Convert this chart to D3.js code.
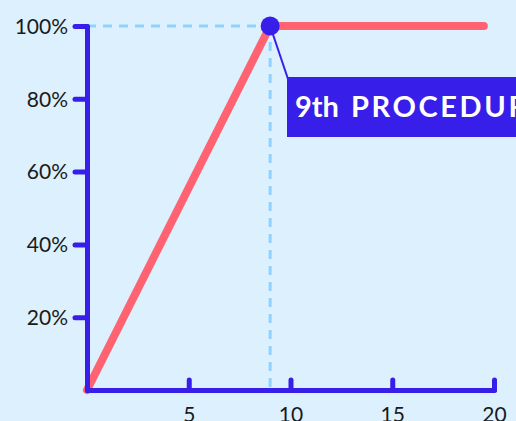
<!DOCTYPE html>
<html>
<head>
<meta charset="utf-8">
<script src="https://cdn.jsdelivr.net/npm/d3@7"></script>
<style>
  html, body { margin: 0; padding: 0; background: #ddf0fe; overflow: hidden; }
  svg { display: block; }
</style>
</head>
<body>
<svg id="chart" width="516" height="421"></svg>
<script>
// Learning curve: share of proficiency reached by procedure number
const procedures = [0, 9, 19.5];
const proficiency = [0, 1, 1];
const xTicks = [5, 10, 15, 20];
const yTicks = [0.2, 0.4, 0.6, 0.8, 1.0];
const milestoneIndex = 1;
const milestoneOrdinal = "9th";
const milestoneWord = "PROCEDURE";

const blue = "#381ee9";
const red = "#ff6270";
const guide = "#8fd2ff";

const svg = d3.select("#chart");
const x = d3.scaleLinear().domain([0, 20]).range([87, 494]);
const y = d3.scaleLinear().domain([0, 1]).range([390, 26]);

// Guide lines to the milestone point
const mx = x(procedures[milestoneIndex]);
const my = y(proficiency[milestoneIndex]);
svg.append("line")
  .attr("x1", x(0)).attr("x2", mx).attr("y1", my).attr("y2", my)
  .attr("stroke", guide).attr("stroke-width", 3).attr("stroke-dasharray", "9,7");
svg.append("line")
  .attr("x1", mx).attr("x2", mx).attr("y1", my).attr("y2", y(0))
  .attr("stroke", guide).attr("stroke-width", 3).attr("stroke-dasharray", "9,7");

// Curve
const data = procedures.map((p, i) => ({ p, v: proficiency[i] }));
svg.append("path")
  .datum(data)
  .attr("fill", "none")
  .attr("stroke", red)
  .attr("stroke-width", 8)
  .attr("stroke-linecap", "round")
  .attr("stroke-linejoin", "round")
  .attr("d", d3.line().x(d => x(d.p)).y(d => y(d.v)));

// Axes
const yAxis = svg.append("g")
  .attr("transform", `translate(${x(0)},0)`)
  .call(d3.axisLeft(y).tickValues(yTicks).tickFormat(d3.format(".0%")).tickSize(12).tickSizeOuter(0));
const xAxis = svg.append("g")
  .attr("transform", `translate(0,${y(0)})`)
  .call(d3.axisBottom(x).tickValues(xTicks).tickSize(-10).tickSizeOuter(0));

[yAxis, xAxis].forEach(g => {
  g.select(".domain").attr("stroke", blue).attr("stroke-width", 5).attr("stroke-linecap", "round");
  g.selectAll(".tick line").attr("stroke", blue).attr("stroke-width", 5).attr("stroke-linecap", "round");
  g.selectAll(".tick text")
    .attr("fill", "#1a1a1a")
    .style("font-family", "Lato, 'Open Sans', sans-serif")
    .style("font-size", "21px");
});
yAxis.selectAll(".tick text").attr("x", -19).attr("dy", "0.35em");
xAxis.selectAll(".tick text").attr("y", 17).attr("dy", "0.71em");

// Milestone marker and callout
svg.append("line")
  .attr("x1", mx).attr("y1", my).attr("x2", 288).attr("y2", 79)
  .attr("stroke", blue).attr("stroke-width", 2);
svg.append("circle")
  .attr("cx", mx).attr("cy", my).attr("r", 9.5)
  .attr("fill", blue);
svg.append("rect")
  .attr("x", 287).attr("y", 77).attr("width", 260).attr("height", 60)
  .attr("fill", blue);
const label = svg.append("text")
  .attr("x", 295).attr("y", 117)
  .attr("fill", "#ffffff")
  .style("font-family", "Lato, 'Open Sans', sans-serif")
  .style("font-weight", "700")
  .style("font-size", "29px");
label.append("tspan").text(milestoneOrdinal + " ");
label.append("tspan")
  .attr("x", 351)
  .style("letter-spacing", "2.6px")
  .text(milestoneWord);
</script>
</body>
</html>
